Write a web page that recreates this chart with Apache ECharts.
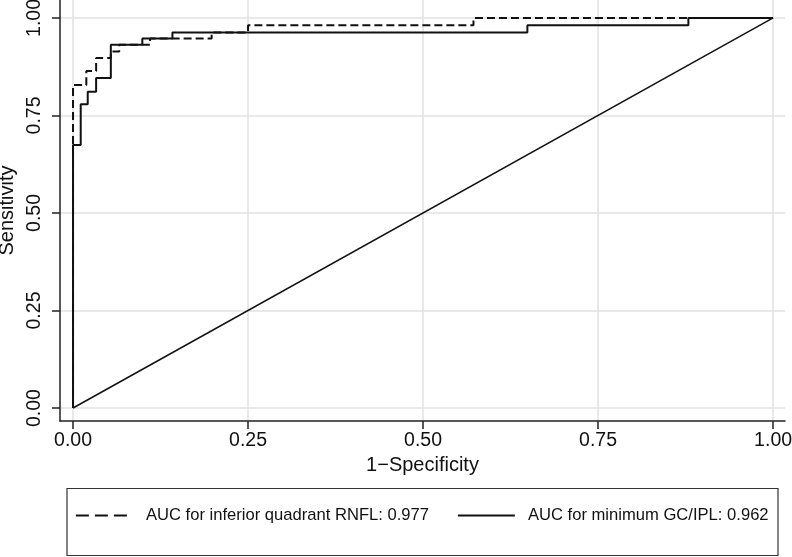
<!DOCTYPE html>
<html>
<head>
<meta charset="utf-8">
<script src="https://cdn.jsdelivr.net/npm/echarts@6/dist/echarts.min.js"></script>
<style>
  html, body { margin: 0; padding: 0; background: #fff; }
  #main { width: 792px; height: 557px; }
</style>
</head>
<body>
<div id="main"></div>
<script>
// tick values on both axes
var tickValues = [0, 0.25, 0.5, 0.75, 1];

// ROC vertices, inferior quadrant RNFL (dashed)
var rnflFpr  = [0, 0,     0.019, 0.019, 0.033, 0.033, 0.054, 0.054, 0.066, 0.066, 0.110, 0.110, 0.198, 0.198, 0.250, 0.250, 0.572, 0.572, 1];
var rnflSens = [0, 0.828, 0.828, 0.864, 0.864, 0.897, 0.897, 0.914, 0.914, 0.931, 0.931, 0.947, 0.947, 0.963, 0.963, 0.981, 0.981, 1,     1];

// ROC vertices, minimum GC/IPL (solid)
var gcFpr  = [0, 0,     0.011, 0.011, 0.021, 0.021, 0.033, 0.033, 0.054, 0.054, 0.099, 0.099, 0.142, 0.142, 0.649, 0.649, 0.879, 0.879, 1];
var gcSens = [0, 0.674, 0.674, 0.779, 0.779, 0.811, 0.811, 0.846, 0.846, 0.931, 0.931, 0.947, 0.947, 0.963, 0.963, 0.981, 0.981, 1,     1];

// chance line
var refX = [0, 1];
var refY = [0, 1];

var seriesNames = ['AUC for inferior quadrant RNFL: 0.977', 'AUC for minimum GC/IPL: 0.962'];

function pairs(xs, ys) {
    return xs.map(function (x, i) { return [x, ys[i]]; });
}

var font = '"Liberation Sans", Arial, Helvetica, sans-serif';
var chart = echarts.init(document.getElementById('main'), null, { renderer: 'canvas' });

var legendBase = {
    top: 507, padding: 0,
    itemWidth: 57, itemHeight: 14,
    itemStyle: { opacity: 0 },
    textStyle: { fontFamily: font, fontSize: 16.6, color: '#111', padding: [0, 0, 0, 8] }
};

var option = {
    backgroundColor: '#fff',
    animation: false,
    grid: { left: 60, right: 7, top: 0, bottom: 136, containLabel: false, outerBoundsMode: 'none' },
    xAxis: {
        type: 'value',
        min: -0.0186,
        max: 1.017,
        name: '1\u2212Specificity',
        nameLocation: 'middle',
        nameGap: 33,
        nameTextStyle: { fontFamily: font, fontSize: 20, color: '#111' },
        axisLine: { show: true, onZero: false, lineStyle: { color: '#222', width: 1.5 } },
        axisTick: { show: true, length: 8, customValues: tickValues, lineStyle: { color: '#222', width: 1.5 } },
        axisLabel: {
            customValues: tickValues, margin: 10,
            fontFamily: font, fontSize: 19.5, color: '#111',
            formatter: function (v) { return v.toFixed(2); }
        },
        splitLine: { show: true, lineStyle: { color: '#e2e2e2', width: 1.5 } }
    },
    yAxis: {
        type: 'value',
        min: -0.0333,
        max: 1.046,
        name: 'Sensitivity',
        nameLocation: 'middle',
        nameGap: 43,
        nameTextStyle: { fontFamily: font, fontSize: 20, color: '#111' },
        axisLine: { show: true, onZero: false, lineStyle: { color: '#222', width: 1.5 } },
        axisTick: { show: true, length: 8, customValues: tickValues, lineStyle: { color: '#222', width: 1.5 } },
        axisLabel: {
            customValues: tickValues, margin: 15, rotate: 90,
            fontFamily: font, fontSize: 19.5, color: '#111',
            formatter: function (v) { return v.toFixed(2); }
        },
        splitLine: { show: true, lineStyle: { color: '#e2e2e2', width: 1.5 } }
    },
    graphic: [{
        type: 'rect',
        shape: { x: 67, y: 488.5, width: 711, height: 67 },
        style: { fill: 'none', stroke: '#333', lineWidth: 1.2 },
        z: 0
    }],
    legend: [
        Object.assign({}, legendBase, {
            data: [seriesNames[0]], left: 75,
            lineStyle: { type: [13, 6], width: 1.8 }
        }),
        Object.assign({}, legendBase, {
            data: [seriesNames[1]], left: 457,
            lineStyle: { width: 1.8 }
        })
    ],
    series: [{
        name: seriesNames[0],
        type: 'line',
        data: pairs(rnflFpr, rnflSens),
        symbol: 'none',
        lineStyle: { color: '#111', width: 2, type: [8, 4] },
        itemStyle: { color: '#111' },
        z: 3
    }, {
        name: seriesNames[1],
        type: 'line',
        data: pairs(gcFpr, gcSens),
        symbol: 'none',
        lineStyle: { color: '#111', width: 2 },
        itemStyle: { color: '#111' },
        z: 4
    }, {
        name: 'reference',
        type: 'line',
        data: pairs(refX, refY),
        symbol: 'none',
        lineStyle: { color: '#111', width: 1.5 },
        z: 2
    }]
};

chart.setOption(option);
</script>
</body>
</html>
